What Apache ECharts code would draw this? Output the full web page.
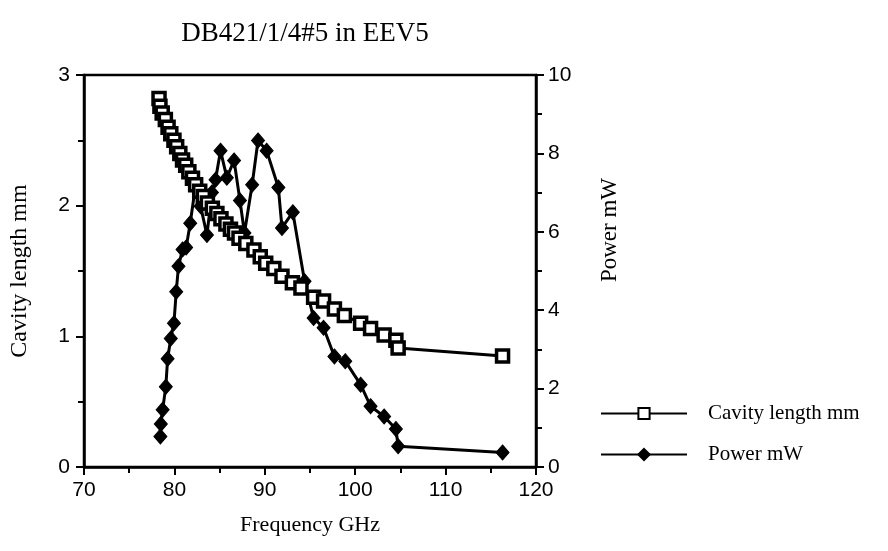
<!DOCTYPE html>
<html>
<head>
<meta charset="utf-8">
<script src="https://cdn.jsdelivr.net/npm/echarts@6/dist/echarts.min.js"></script>
<style>html,body{margin:0;padding:0;background:#fff;}#c{width:888px;height:551px;}</style>
</head>
<body>
<div id="c"></div>
<script>
const titleText = 'DB421/1/4#5 in EEV5';
const xName = 'Frequency GHz';
const leftName = 'Cavity length mm';
const rightName = 'Power mW';

const cavityFreq = [78.3,78.4,78.65,79.0,79.3,79.6,79.95,80.25,80.6,80.9,81.25,81.6,82.0,82.35,82.8,83.2,83.65,84.2,84.7,85.15,85.7,86.2,86.65,87.15,87.9,88.8,89.5,90.1,91.0,91.9,93.05,94.0,95.4,96.5,97.7,98.8,100.6,101.7,103.2,104.5,104.75,116.3];
const cavityLen = [2.82,2.76,2.71,2.66,2.60,2.55,2.50,2.45,2.40,2.35,2.31,2.26,2.21,2.16,2.11,2.07,2.02,1.98,1.94,1.90,1.86,1.82,1.79,1.75,1.71,1.66,1.61,1.56,1.52,1.46,1.41,1.37,1.30,1.27,1.21,1.16,1.10,1.06,1.01,0.97,0.91,0.85];

const powerFreq = [78.45,78.5,78.7,79.05,79.25,79.6,79.95,80.2,80.45,80.9,81.3,81.75,82.35,82.9,83.6,84.15,84.55,85.1,85.8,86.6,87.25,87.75,88.6,89.25,90.2,91.5,91.9,93.1,94.4,95.4,96.5,97.7,98.9,100.6,101.7,103.2,104.5,104.75,116.3];
const powerVal = [0.78,1.1,1.46,2.05,2.76,3.28,3.67,4.47,5.12,5.55,5.6,6.22,7.2,6.65,5.92,7.0,7.33,8.07,7.38,7.82,6.8,5.97,7.2,8.33,8.07,7.13,6.1,6.5,4.74,3.8,3.55,2.82,2.7,2.1,1.55,1.29,0.97,0.53,0.37];

const xTicks = {min:70, max:120, interval:10};
const leftTicks = {min:0, max:3, interval:1};
const rightTicks = {min:0, max:10, interval:2};

const cavityData = cavityFreq.map((f,i)=>[f,cavityLen[i]]);
const powerData = powerFreq.map((f,i)=>[f,powerVal[i]]);

const serif = '"Liberation Serif","DejaVu Serif",serif';
const sans = '"Liberation Sans",Arial,sans-serif';
const axisCommon = {
  axisLine:{show:true, lineStyle:{color:'#000', width:2.5}},
  axisTick:{show:true, inside:false, length:8, lineStyle:{color:'#000', width:2}},
  minorTick:{show:true, splitNumber:2, length:6, lineStyle:{color:'#000', width:2}},
  splitLine:{show:false},
  axisLabel:{color:'#000', fontFamily:sans, fontSize:21}
};

const chart = echarts.init(document.getElementById('c'));
chart.setOption({
  backgroundColor:'#fff',
  animation:false,
  title:{text:titleText, left:300, top:15, textAlign:'center',
    textStyle:{fontFamily:serif, fontWeight:'normal', fontSize:27, color:'#000'}},
  grid:{left:84, right:352, top:75, bottom:84, show:true, borderColor:'#000', borderWidth:2.5, backgroundColor:'transparent'},
  legend:{orient:'vertical', left:595, top:398, itemWidth:86, itemHeight:14, itemGap:20,
    textStyle:{fontFamily:serif, fontSize:21, color:'#000', padding:[0,0,0,16]},
    data:[leftName, rightName]},
  graphic:[{type:'text', left:598, top:178, rotation:Math.PI/2,
    style:{text:rightName, font:'23px ' + serif, fill:'#000'}}],
  xAxis:Object.assign({}, axisCommon, {type:'value', min:xTicks.min, max:xTicks.max, interval:xTicks.interval,
    name:xName, nameLocation:'middle', nameGap:47,
    nameTextStyle:{fontFamily:serif, fontSize:22, color:'#000'},
    axisLabel:Object.assign({}, axisCommon.axisLabel, {margin:13})}),
  yAxis:[
    Object.assign({}, axisCommon, {type:'value', position:'left', min:leftTicks.min, max:leftTicks.max, interval:leftTicks.interval,
      name:leftName, nameLocation:'middle', nameGap:52, nameRotate:90,
      nameTextStyle:{fontFamily:serif, fontSize:24, color:'#000'},
      axisLabel:Object.assign({}, axisCommon.axisLabel, {margin:14})}),
    Object.assign({}, axisCommon, {type:'value', position:'right', min:rightTicks.min, max:rightTicks.max, interval:rightTicks.interval,
      axisLabel:Object.assign({}, axisCommon.axisLabel, {margin:12})})
  ],
  series:[
    {name:leftName, type:'line', yAxisIndex:0, data:cavityData,
      symbol:'rect', symbolSize:12, showAllSymbol:true,
      lineStyle:{color:'#000', width:3},
      itemStyle:{color:'#fff', borderColor:'#000', borderWidth:3.5}, z:3},
    {name:rightName, type:'line', yAxisIndex:1, data:powerData,
      symbol:'diamond', symbolSize:[13,15], showAllSymbol:true,
      lineStyle:{color:'#000', width:3},
      itemStyle:{color:'#000', borderColor:'#000', borderWidth:1}, z:2}
  ]
});
</script>
</body>
</html>
